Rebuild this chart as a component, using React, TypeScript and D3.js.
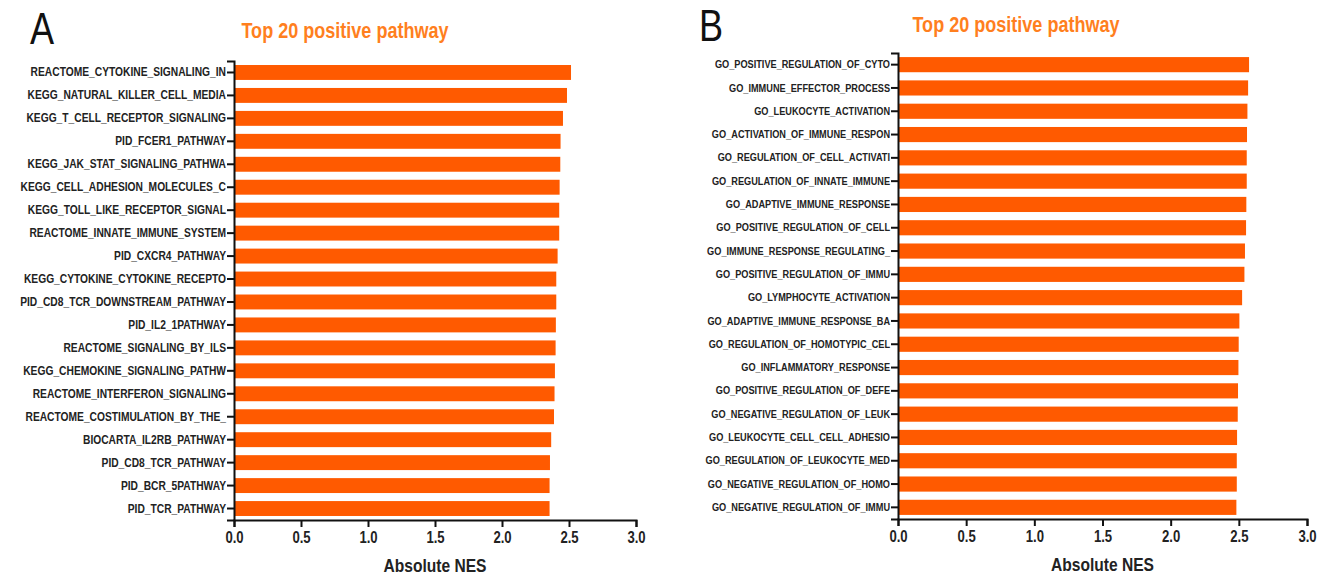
import { useEffect, useRef } from "react";
import * as d3 from "d3";

const W = 1329;
const H = 578;

const pathwaysA = [
  "REACTOME_CYTOKINE_SIGNALING_IN",
  "KEGG_NATURAL_KILLER_CELL_MEDIA",
  "KEGG_T_CELL_RECEPTOR_SIGNALING",
  "PID_FCER1_PATHWAY",
  "KEGG_JAK_STAT_SIGNALING_PATHWA",
  "KEGG_CELL_ADHESION_MOLECULES_C",
  "KEGG_TOLL_LIKE_RECEPTOR_SIGNAL",
  "REACTOME_INNATE_IMMUNE_SYSTEM",
  "PID_CXCR4_PATHWAY",
  "KEGG_CYTOKINE_CYTOKINE_RECEPTO",
  "PID_CD8_TCR_DOWNSTREAM_PATHWAY",
  "PID_IL2_1PATHWAY",
  "REACTOME_SIGNALING_BY_ILS",
  "KEGG_CHEMOKINE_SIGNALING_PATHW",
  "REACTOME_INTERFERON_SIGNALING",
  "REACTOME_COSTIMULATION_BY_THE_",
  "BIOCARTA_IL2RB_PATHWAY",
  "PID_CD8_TCR_PATHWAY",
  "PID_BCR_5PATHWAY",
  "PID_TCR_PATHWAY",
];
const nesA = [
  2.515, 2.485, 2.455, 2.437, 2.435, 2.43, 2.427, 2.427, 2.415, 2.405,
  2.405, 2.402, 2.4, 2.395, 2.392, 2.388, 2.367, 2.358, 2.355, 2.355,
];

const pathwaysB = [
  "GO_POSITIVE_REGULATION_OF_CYTO",
  "GO_IMMUNE_EFFECTOR_PROCESS",
  "GO_LEUKOCYTE_ACTIVATION",
  "GO_ACTIVATION_OF_IMMUNE_RESPON",
  "GO_REGULATION_OF_CELL_ACTIVATI",
  "GO_REGULATION_OF_INNATE_IMMUNE",
  "GO_ADAPTIVE_IMMUNE_RESPONSE",
  "GO_POSITIVE_REGULATION_OF_CELL",
  "GO_IMMUNE_RESPONSE_REGULATING_",
  "GO_POSITIVE_REGULATION_OF_IMMU",
  "GO_LYMPHOCYTE_ACTIVATION",
  "GO_ADAPTIVE_IMMUNE_RESPONSE_BA",
  "GO_REGULATION_OF_HOMOTYPIC_CEL",
  "GO_INFLAMMATORY_RESPONSE",
  "GO_POSITIVE_REGULATION_OF_DEFE",
  "GO_NEGATIVE_REGULATION_OF_LEUK",
  "GO_LEUKOCYTE_CELL_CELL_ADHESIO",
  "GO_REGULATION_OF_LEUKOCYTE_MED",
  "GO_NEGATIVE_REGULATION_OF_HOMO",
  "GO_NEGATIVE_REGULATION_OF_IMMU",
];
const nesB = [
  2.575, 2.568, 2.563, 2.56, 2.558, 2.558, 2.555, 2.553, 2.545, 2.541,
  2.524, 2.504, 2.499, 2.497, 2.494, 2.492, 2.487, 2.485, 2.485, 2.482,
];

const xTicks = [0, 0.5, 1, 1.5, 2, 2.5, 3];
const title = "Top 20 positive pathway";
const xTitle = "Absolute NES";

const SANS = "'Liberation Sans', Arial, sans-serif";
const BAR = "#ff5a00";
const K = 0.82; // horizontal squeeze to mimic a narrow bold face

// squeeze text horizontally while keeping its anchor point in place
function narrow(sel) {
  sel.each(function () {
    const t = d3.select(this);
    const x = +(t.attr("x") || 0);
    t.attr("x", x / K).attr("transform", `scale(${K},1)`);
  });
}

function drawPanel(svg, opts) {
  const { names, values, letter, letterX, letterY, x0, x1, y0, y1, titleX, titleY, labelSize } = opts;

  const x = d3.scaleLinear().domain([0, 3]).range([x0, x1]);
  const y = d3.scaleBand()
    .domain(names)
    .range([y0, y1])
    .paddingInner(0.35)
    .paddingOuter(0.175);

  const g = svg.append("g");

  g.append("text")
    .attr("x", letterX)
    .attr("y", letterY)
    .attr("font-family", SANS)
    .attr("font-size", 44)
    .attr("fill", "#111")
    .text(letter)
    .call(narrow);

  g.append("text")
    .attr("x", titleX)
    .attr("y", titleY)
    .attr("text-anchor", "middle")
    .attr("font-family", SANS)
    .attr("font-weight", "bold")
    .attr("font-size", 22)
    .attr("fill", "#ff7f1e")
    .text(title)
    .call(narrow);

  g.selectAll(".bar")
    .data(values)
    .enter().append("rect")
    .attr("x", x(0))
    .attr("y", (_, i) => y(names[i]))
    .attr("width", d => x(d) - x(0))
    .attr("height", y.bandwidth())
    .attr("fill", BAR);

  const yAxis = g.append("g")
    .attr("transform", `translate(${x0},0)`)
    .call(d3.axisLeft(y).tickSizeOuter(0).tickSize(7).tickPadding(1));
  yAxis.selectAll("text")
    .attr("font-family", SANS)
    .attr("font-weight", "bold")
    .attr("font-size", labelSize)
    .attr("fill", "#222")
    .call(narrow);

  const xAxis = g.append("g")
    .attr("transform", `translate(0,${y1})`)
    .call(d3.axisBottom(x).tickValues(xTicks).tickFormat(d3.format(".1f")).tickSizeOuter(0).tickSize(7).tickPadding(5));
  xAxis.selectAll("text")
    .attr("font-family", SANS)
    .attr("font-weight", "bold")
    .attr("font-size", 16)
    .attr("fill", "#222")
    .call(narrow);

  [yAxis, xAxis].forEach(a => {
    a.selectAll("path, line").attr("stroke", "#111").attr("stroke-width", 2);
  });

  g.append("text")
    .attr("x", (x0 + x1) / 2)
    .attr("y", y1 + 52)
    .attr("text-anchor", "middle")
    .attr("font-family", SANS)
    .attr("font-weight", "bold")
    .attr("font-size", 19)
    .attr("fill", "#222")
    .text(xTitle)
    .call(narrow);
}

export default function App() {
  const ref = useRef(null);

  useEffect(() => {
    const svg = d3.select(ref.current);
    svg.selectAll("*").remove();

    drawPanel(svg, {
      names: pathwaysA, values: nesA, letter: "A", letterX: 30, letterY: 44,
      x0: 234, x1: 636, y0: 61, y1: 520, titleX: 345, titleY: 38, labelSize: 12.5,
    });
    drawPanel(svg, {
      names: pathwaysB, values: nesB, letter: "B", letterX: 699, letterY: 41,
      x0: 898, x1: 1307, y0: 53, y1: 519, titleX: 1016, titleY: 32, labelSize: 11.2,
    });
  }, []);

  return (
    <svg
      ref={ref}
      width={W}
      height={H}
      style={{ position: "absolute", left: 0, top: 0, background: "#fff" }}
    />
  );
}
